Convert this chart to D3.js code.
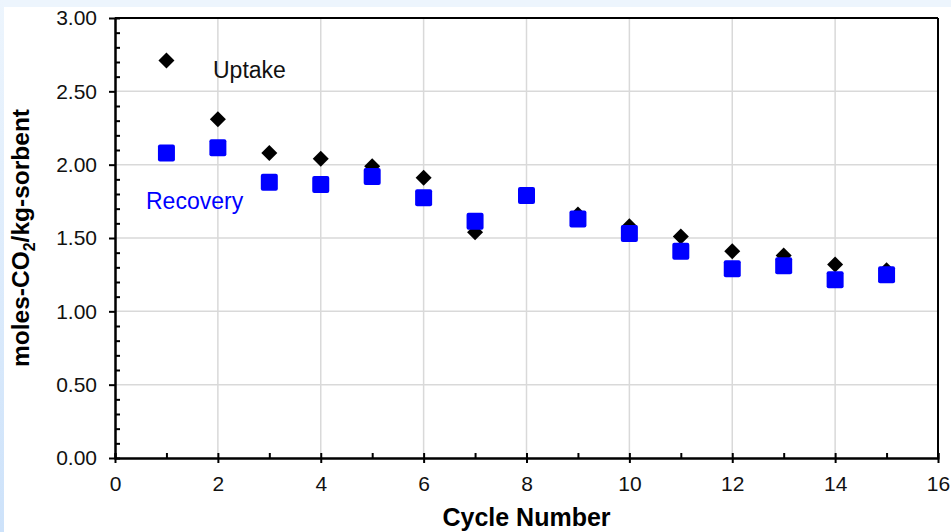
<!DOCTYPE html>
<head>
  <meta charset="utf-8">
  <script src="https://cdn.jsdelivr.net/npm/d3@7"></script>
  <style>
    body { margin: 0; background: #edf5fd; }
    svg { display: block; font-family: Arial, "Liberation Sans", sans-serif; }
  </style>
</head>
<body>
  <div id="chartDiv"></div>
  <script>

  // cycle numbers and measured values (moles CO2 / kg sorbent)
  var cycles = [1, 2, 3, 4, 5, 6, 7, 8, 9, 10, 11, 12, 13, 14, 15];
  var uptake = [2.71, 2.31, 2.08, 2.04, 1.99, 1.91, 1.54, 1.79, 1.66, 1.58, 1.51, 1.41, 1.38, 1.32, 1.28];
  var recovery = [2.08, 2.115, 1.88, 1.865, 1.92, 1.775, 1.615, 1.79, 1.63, 1.53, 1.41, 1.29, 1.31, 1.215, 1.25];

  var xTicks = [0, 2, 4, 6, 8, 10, 12, 14, 16];
  var xMinorTicks = [1, 3, 5, 7, 9, 11, 13, 15];
  var yTicks = [0, 0.5, 1.0, 1.5, 2.0, 2.5, 3.0];
  var yMinorTicks = d3.range(0, 31).filter(function(i) { return i % 5 != 0; }).map(function(i) { return i / 10; });

  var width = 951;
  var height = 532;
  var margin = {left: 115, top: 18, right: 13, bottom: 74};
  var plotW = width - margin.left - margin.right;
  var plotH = height - margin.top - margin.bottom;

  var svg = d3.select("#chartDiv").append("svg")
    .attr("width", width)
    .attr("height", height);

  var defs = svg.append("defs");
  var grad = defs.append("linearGradient")
    .attr("id", "edgeGrad")
    .attr("x1", 0).attr("y1", 0).attr("x2", 0).attr("y2", 1);
  grad.append("stop").attr("offset", "0%").attr("stop-color", "#edf5fd");
  grad.append("stop").attr("offset", "100%").attr("stop-color", "#cde2fa");

  svg.append("rect")
    .attr("x", 0).attr("y", 0)
    .attr("width", 4).attr("height", height)
    .style("fill", "url(#edgeGrad)");

  svg.append("rect")
    .attr("x", 4).attr("y", 7)
    .attr("width", width - 4).attr("height", height - 7)
    .style("fill", "white");

  var x = d3.scaleLinear().domain([0, 16]).range([0, plotW]);
  var y = d3.scaleLinear().domain([0, 3]).range([plotH, 0]);

  var g = svg.append("g")
    .attr("transform", "translate(" + margin.left + "," + margin.top + ")");

  // grid
  g.append("g").selectAll("line")
    .data(yTicks.filter(function(d) { return d > 0 && d < 3; }))
    .enter().append("line")
    .attr("x1", 0).attr("x2", plotW)
    .attr("y1", function(d) { return y(d); })
    .attr("y2", function(d) { return y(d); })
    .style("stroke", "#d9d9d9")
    .style("stroke-width", 1.5);

  g.append("g").selectAll("line")
    .data(xTicks.filter(function(d) { return d > 0 && d < 16; }))
    .enter().append("line")
    .attr("y1", 0).attr("y2", plotH)
    .attr("x1", function(d) { return x(d); })
    .attr("x2", function(d) { return x(d); })
    .style("stroke", "#d9d9d9")
    .style("stroke-width", 1.5);

  // frame top / right
  g.append("line")
    .attr("x1", 0).attr("x2", plotW).attr("y1", 0).attr("y2", 0)
    .style("stroke", "black").style("stroke-width", 2);
  g.append("line")
    .attr("x1", plotW).attr("x2", plotW).attr("y1", 0).attr("y2", plotH)
    .style("stroke", "black").style("stroke-width", 2);

  // y axis
  var yAxis = g.append("g")
    .call(d3.axisLeft(y).tickValues(yTicks).tickSizeInner(6).tickSizeOuter(0)
      .tickPadding(12).tickFormat(d3.format(".2f")));
  g.append("g")
    .call(d3.axisRight(y).tickValues(yMinorTicks).tickSize(5).tickFormat(""));

  // x axis
  var xAxis = g.append("g")
    .attr("transform", "translate(0," + plotH + ")")
    .call(d3.axisBottom(x).tickValues(xTicks).tickSizeInner(5).tickSizeOuter(0)
      .tickPadding(13));
  xAxis.selectAll(".tick line").attr("y1", -5);
  g.append("g")
    .attr("transform", "translate(0," + plotH + ")")
    .call(d3.axisTop(x).tickValues(xMinorTicks).tickSize(5).tickFormat(""));

  g.selectAll(".domain").style("stroke", "black").style("stroke-width", 2);
  g.selectAll(".tick line").style("stroke", "black").style("stroke-width", 2);
  g.selectAll(".tick text")
    .style("font-size", "21px")
    .style("font-family", "Arial, 'Liberation Sans', sans-serif")
    .style("fill", "#111");

  // uptake diamonds
  g.append("g").selectAll("path")
    .data(cycles)
    .enter().append("path")
    .attr("d", d3.symbol().type(d3.symbolSquare).size(128))
    .attr("transform", function(d, i) {
      return "translate(" + x(d) + "," + y(uptake[i]) + ") rotate(45)";
    })
    .style("fill", "black");

  // recovery squares
  g.append("g").selectAll("rect")
    .data(cycles)
    .enter().append("rect")
    .attr("x", function(d) { return x(d) - 8.5; })
    .attr("y", function(d, i) { return y(recovery[i]) - 8.5; })
    .attr("width", 17)
    .attr("height", 17)
    .attr("rx", 2)
    .style("fill", "#0000ff");

  // labels
  svg.append("text")
    .attr("x", 213).attr("y", 78)
    .style("font-size", "23px")
    .style("fill", "#111")
    .text("Uptake");

  svg.append("text")
    .attr("x", 146).attr("y", 209)
    .style("font-size", "23px")
    .style("fill", "#0000ff")
    .text("Recovery");

  svg.append("text")
    .attr("x", margin.left + plotW / 2)
    .attr("y", 526)
    .attr("text-anchor", "middle")
    .style("font-size", "25px")
    .style("font-weight", "bold")
    .text("Cycle Number");

  var yTitle = svg.append("text")
    .attr("transform", "translate(29," + (margin.top + plotH / 2) + ") rotate(-90)")
    .attr("text-anchor", "middle")
    .style("font-size", "24.5px")
    .style("font-weight", "bold");
  yTitle.append("tspan").text("moles-CO");
  yTitle.append("tspan").attr("dy", 6).style("font-size", "16px").text("2");
  yTitle.append("tspan").attr("dy", -6).text("/kg-sorbent");

  </script>
</body>
